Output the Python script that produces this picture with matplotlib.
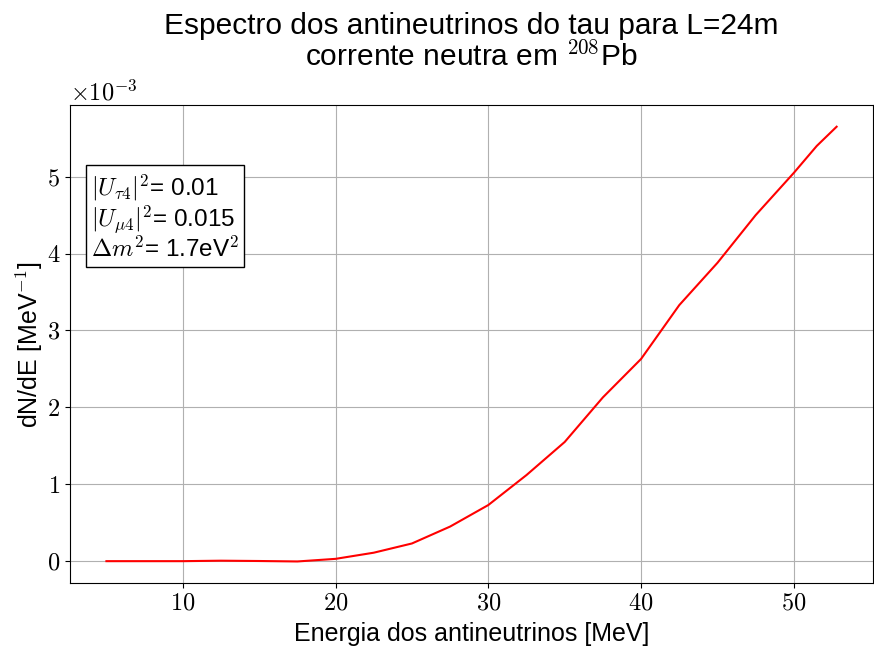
import numpy as np
import matplotlib
matplotlib.use("Agg")
import matplotlib.pyplot as plt
from matplotlib import ticker

plt.rcParams['font.family'] = ['Liberation Sans', 'DejaVu Sans']
plt.rcParams['mathtext.fontset'] = 'cm'

# spectrum (y in units of 1e-3 MeV^-1)
energy = [5, 7.5, 10, 12.5, 15, 17.5, 20, 22.5, 25, 27.5, 30, 32.5, 35,
          37.5, 40, 42.5, 45, 47.5, 50, 51.5, 52.8]
dnde_e3 = [0.0, 0.0, 0.0, 0.006, 0.002, -0.004, 0.03, 0.11, 0.23, 0.45, 0.73,
           1.12, 1.55, 2.13, 2.63, 3.33, 3.88, 4.5, 5.05, 5.4, 5.65]
dnde = np.array(dnde_e3) * 1e-3


class CMFormatter(ticker.ScalarFormatter):
    # tick labels and offset in computer modern, like a usetex plot
    def __call__(self, x, pos=None):
        v = x / 10 ** self.orderOfMagnitude
        return r'$%g$' % round(v, 6)

    def get_offset(self):
        if self.orderOfMagnitude == 0:
            return ''
        return r'$\times10^{%d}$' % self.orderOfMagnitude


fig = plt.figure(figsize=(8.74, 6.48), dpi=100)
ax = fig.add_axes([0.080, 0.100, 0.919, 0.738])

ax.plot(energy, dnde, color='red', lw=1.5)
ax.grid(True, color='#b0b0b0', lw=0.8)

yfmt = CMFormatter(useMathText=True)
yfmt.set_powerlimits((-2, 2))
ax.yaxis.set_major_formatter(yfmt)
ax.xaxis.set_major_formatter(ticker.FuncFormatter(lambda x, p: r'$%g$' % x))
ax.tick_params(labelsize=17.5)
ax.yaxis.get_offset_text().set_fontsize(17.5)

ax.set_xlabel('Energia dos antineutrinos [MeV]', fontsize=18, labelpad=5)
ax.set_ylabel('dN/dE [MeV$^{-1}$]', fontsize=18, labelpad=1)
ax.set_title('Espectro dos antineutrinos do tau para L=24m\ncorrente neutra em $^{208}$Pb',
             fontsize=21.5, pad=28, linespacing=1.05)

ax.text(0.026, 0.858,
        '$|U_{\\tau4}|^2$= 0.01\n$|U_{\\mu4}|^2$= 0.015\n$\\Delta m^2$= 1.7eV$^2$',
        transform=ax.transAxes, fontsize=17.5, va='top', ha='left',
        linespacing=1.03,
        bbox=dict(boxstyle='square,pad=0.2', facecolor='white', edgecolor='black'))

fig.savefig('out.png', dpi=100)
